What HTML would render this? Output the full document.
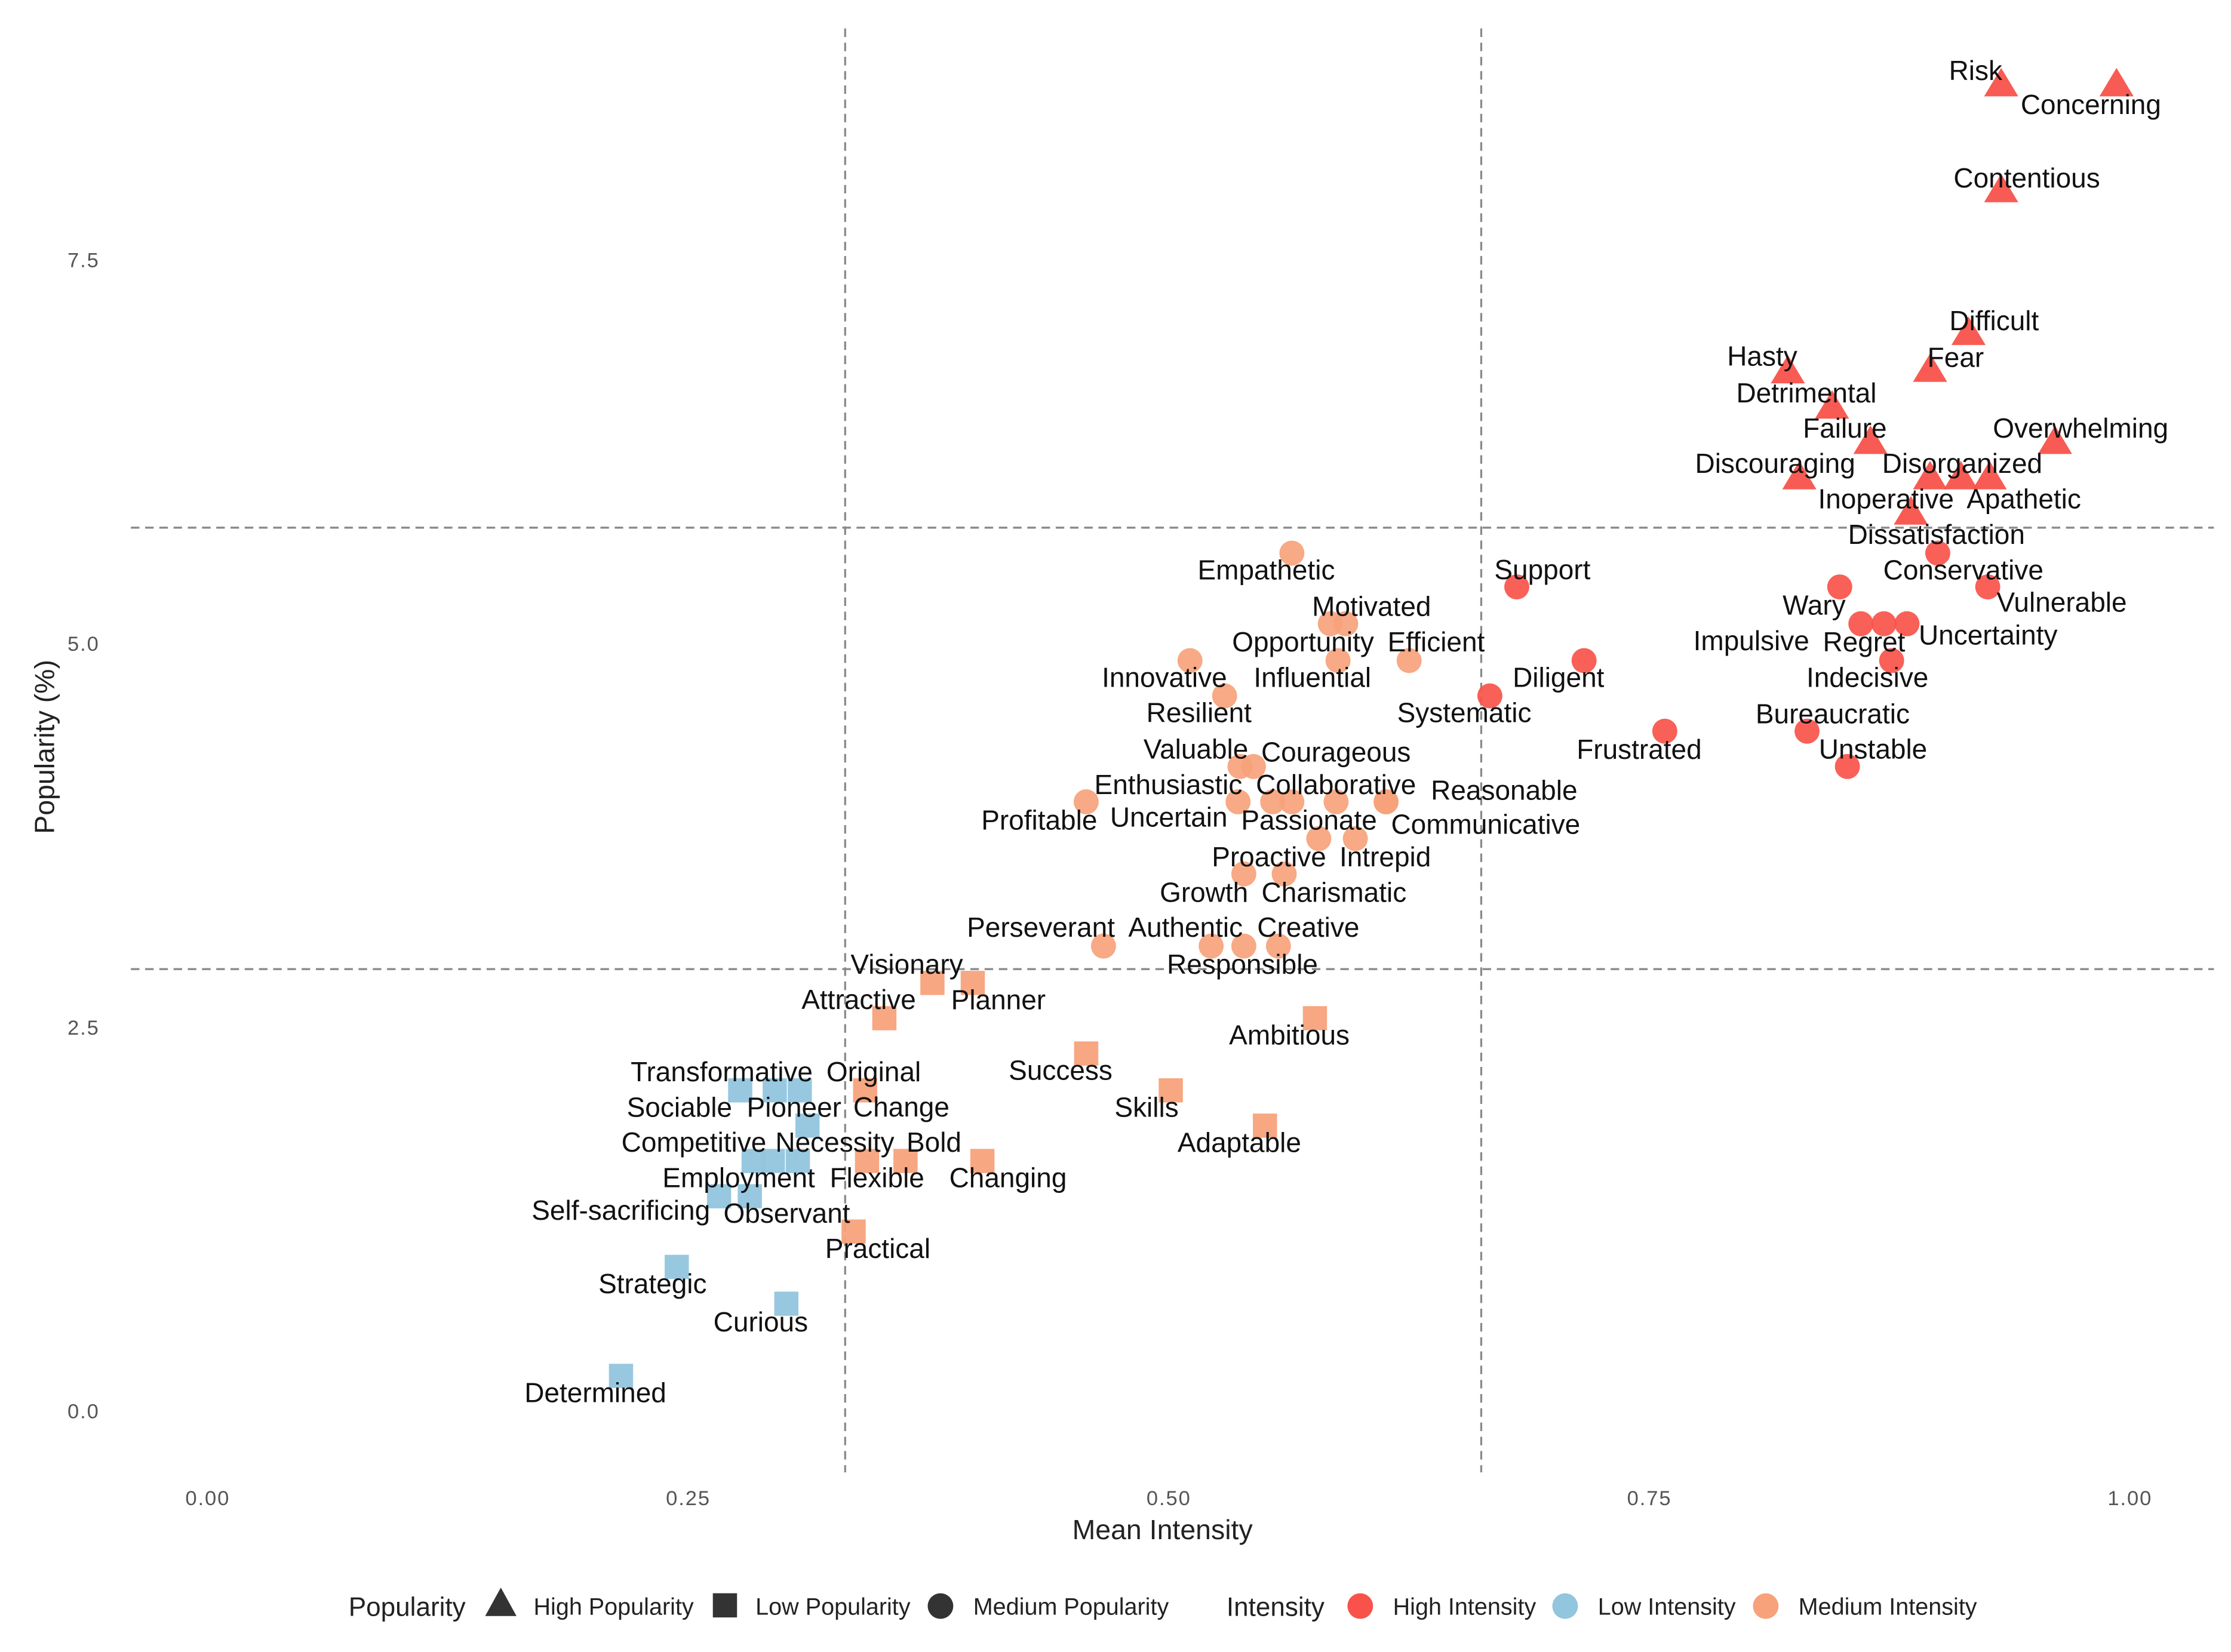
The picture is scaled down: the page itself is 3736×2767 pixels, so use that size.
<!DOCTYPE html>
<html><head><meta charset="utf-8"><style>
html,body{margin:0;padding:0;background:#fff;}
svg{display:block;font-family:"Liberation Sans",Arial,sans-serif;}
</style></head>
<body>
<svg id="chart" width="3736" height="2767" viewBox="0 0 1568 1161.3" preserveAspectRatio="none" xmlns="http://www.w3.org/2000/svg">
<g id="grid"></g>
<g id="marks"></g>
<g id="labels"></g>
<g id="axes"></g>
<text x="817" y="1082" text-anchor="middle" font-size="19.5" fill="#222">Mean Intensity</text>
<text transform="translate(38,525) rotate(-90)" text-anchor="middle" font-size="19.5" fill="#222">Popularity (%)</text>
<g font-size="16.6" fill="#222">
  <text x="245" y="1136" font-size="18.5">Popularity</text>
  <polygon points="341,1136 363,1136 352,1116" fill="#333"/>
  <text x="375" y="1135">High Popularity</text>
  <rect x="501" y="1120" width="17" height="17" fill="#333"/>
  <text x="531" y="1135">Low Popularity</text>
  <circle cx="661" cy="1129" r="9" fill="#333"/>
  <text x="684" y="1135">Medium Popularity</text>
  <text x="862" y="1136" font-size="18.5">Intensity</text>
  <circle cx="956" cy="1129" r="9" fill="#F8524A"/>
  <text x="979" y="1135">High Intensity</text>
  <circle cx="1100" cy="1129" r="9" fill="#92C5DE"/>
  <text x="1123" y="1135">Low Intensity</text>
  <circle cx="1241" cy="1129" r="9" fill="#F7A27B"/>
  <text x="1264" y="1135">Medium Intensity</text>
</g>
</svg>
<script>
const names = ["Risk","Concerning","Contentious","Difficult","Hasty","Fear","Detrimental","Failure","Overwhelming","Discouraging","Inoperative","Disorganized","Apathetic","Dissatisfaction",
"Support","Diligent","Systematic","Frustrated","Conservative","Wary","Vulnerable","Impulsive","Regret","Uncertainty","Indecisive","Bureaucratic","Unstable",
"Empathetic","Motivated","Opportunity","Influential","Efficient","Innovative","Resilient","Valuable","Courageous","Enthusiastic","Uncertain","Collaborative","Passionate","Reasonable","Communicative","Profitable","Proactive","Intrepid","Growth","Charismatic","Perseverant","Authentic","Responsible","Creative",
"Visionary","Planner","Attractive","Ambitious","Success","Skills","Original","Adaptable","Flexible","Bold","Changing","Practical",
"Transformative","Sociable","Pioneer","Change","Competitive","Employment","Necessity","Self-sacrificing","Observant","Strategic","Curious","Determined"];
const intensity = [0.933,0.993,0.933,0.916,0.822,0.896,0.845,0.865,0.961,0.828,0.896,0.912,0.927,0.886,
0.681,0.716,0.667,0.758,0.900,0.849,0.926,0.860,0.872,0.884,0.876,0.832,0.853,
0.564,0.584,0.592,0.588,0.625,0.511,0.529,0.537,0.544,0.536,0.554,0.564,0.587,0.613,0.613,0.457,0.578,0.597,0.539,0.560,0.466,0.522,0.539,0.557,
0.377,0.398,0.352,0.576,0.457,0.501,0.342,0.550,0.343,0.363,0.403,0.336,
0.277,0.295,0.308,0.312,0.284,0.294,0.307,0.266,0.282,0.244,0.301,0.215];
const popularity = [8.64,8.64,7.95,7.02,6.77,6.78,6.54,6.31,6.31,6.08,6.08,6.08,6.08,5.85,
5.37,4.89,4.66,4.43,5.59,5.37,5.37,5.13,5.13,5.13,4.89,4.43,4.20,
5.59,5.13,5.13,4.89,4.89,4.89,4.66,4.20,4.20,3.97,3.97,3.97,3.97,3.97,3.97,3.97,3.73,3.73,3.50,3.50,3.03,3.03,3.03,3.03,
2.79,2.79,2.56,2.56,2.33,2.09,2.09,1.86,1.63,1.63,1.63,1.17,
2.09,2.09,2.09,1.86,1.63,1.63,1.63,1.40,1.40,0.94,0.70,0.23];
const popClass = [].concat(Array(14).fill("High"),Array(37).fill("Medium"),Array(24).fill("Low"));
const intClass = [].concat(Array(27).fill("High"),Array(24).fill("Medium"),Array(12).fill("Medium"),Array(12).fill("Low"));
const xTicks = [0,0.25,0.5,0.75,1];
const xTickLabels = ["0.00","0.25","0.50","0.75","1.00"];
const yTicks = [0,2.5,5,7.5];
const yTickLabels = ["0.0","2.5","5.0","7.5"];
const vThresholds = [0.3316,0.6625];
const hThresholds = [2.88,5.756];
// label layout offsets (display px)
const labelOffsets = [[-18,-10],[-18,14],[18,-9],[18,-9],[-18,-11],[18,-9],[-18,-10],[-18,-10],[18,-10],[-17,-10],[-31,15],[1,-10],[24,15],[18,15],
[18,-12],[-18,12],[-18,12],[-18,13],[18,12],[-18,13],[52,11],[-77,12],[-14,13],[57,8],[-17,12],[18,-12],[18,-12],
[-18,12],[29,-12],[-30,13],[-18,12],[19,-13],[-18,12],[-18,12],[-31,-12],[58,-10],[-49,-12],[-73,11],[31,-12],[-19,13],[83,-8],[70,16],[-33,13],[-35,13],[21,13],[-28,13],[35,13],[-44,-13],[-18,-13],[-1,13],[21,-13],
[-18,-13],[18,12],[-18,-13],[-18,12],[-18,12],[-17,12],[6,-13],[-18,12],[7,12],[20,-13],[18,12],[17,12],
[-13,-13],[-67,12],[-4,12],[66,-13],[-42,-13],[-24,12],[26,-13],[-69,10],[26,12],[-17,12],[-18,13],[-18,12]];

const NS="http://www.w3.org/2000/svg";
function X(v){return 146+v*1351;}
function Y(v){return 992-v*107.9;}
const colors={High:"#F8524A",Medium:"#F7A27B",Low:"#92C5DE"};
function mk(tag,attrs,parent){const e=document.createElementNS(NS,tag);for(const k in attrs)e.setAttribute(k,attrs[k]);parent.appendChild(e);return e;}
const grid=document.getElementById('grid'),marks=document.getElementById('marks'),labels=document.getElementById('labels'),axes=document.getElementById('axes');
vThresholds.forEach((t,i)=>{const l=mk('line',{x1:X(t),x2:X(t),y1:20,y2:1035,stroke:'#8a8a8a','stroke-width':1.4,'stroke-dasharray':'6,4'},grid);

});
hThresholds.forEach((t,i)=>{const l=mk('line',{x1:92,x2:1556,y1:Y(t),y2:Y(t),stroke:'#8a8a8a','stroke-width':1.4,'stroke-dasharray':'6,4'},grid);

});
xTicks.forEach((t,i)=>{const e=mk('text',{x:X(t),y:1058,'text-anchor':'middle','font-size':14.5,fill:'#555','letter-spacing':'0.8'},axes);e.textContent=xTickLabels[i];

});
yTicks.forEach((t,i)=>{const e=mk('text',{x:70,y:Y(t)+5,'text-anchor':'end','font-size':14.5,fill:'#555','letter-spacing':'0.8'},axes);e.textContent=yTickLabels[i];

});
names.forEach((n,i)=>{
  const cx=X(intensity[i]),cy=Y(popularity[i]),fill=colors[intClass[i]];
  let m;
  if(popClass[i]==="High"){m=mk('polygon',{points:`${cx-12},${cy+8} ${cx+12},${cy+8} ${cx},${cy-12}`,fill:fill,'fill-opacity':0.95},marks);}
  else if(popClass[i]==="Low"){m=mk('rect',{x:cx-8.5,y:cy-8.5,width:17,height:17,fill:fill,'fill-opacity':0.95},marks);}
  else{m=mk('circle',{cx:cx,cy:cy,r:8.8,fill:fill,'fill-opacity':0.92},marks);}
  
  
  const o=labelOffsets[i];
  const t=mk('text',{x:cx+o[0],y:cy+o[1]+6.5,'text-anchor':'middle','font-size':19.3,fill:'#111'},labels);
  t.textContent=n;
  
  
});
</script>
</body></html>
